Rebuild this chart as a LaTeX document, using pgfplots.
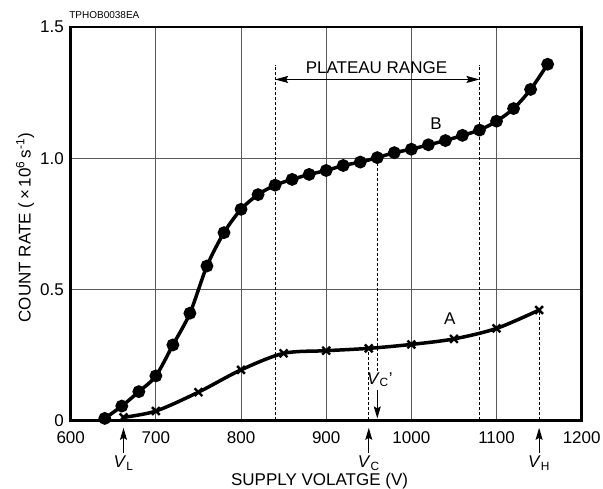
\documentclass[border=0pt]{standalone}
\usepackage{fontspec}
\setmainfont{Liberation Sans}
\usepackage{pgfplots}
\pgfplotsset{compat=1.18}
\usetikzlibrary{arrows.meta}
\pgfplotstableread{
x y
640 0.008
660 0.055
680 0.110
700 0.170
720 0.288
740 0.409
760 0.589
780 0.716
800 0.805
820 0.861
840 0.897
860 0.919
880 0.938
900 0.953
920 0.972
940 0.985
960 1.002
980 1.021
1000 1.034
1020 1.051
1040 1.067
1060 1.087
1080 1.107
1100 1.141
1120 1.189
1140 1.262
1160 1.358
}\curveB
\pgfplotstableread{
x y
662 0.012
700 0.036
750 0.108
800 0.193
850 0.256
900 0.266
950 0.275
1000 0.290
1050 0.311
1100 0.351
1150 0.421
}\curveA
\begin{document}
\begin{tikzpicture}
\fontsize{17}{20}\selectfont
\begin{axis}[
  scale only axis, width=511pt, height=393.5pt,
  xmin=600, xmax=1200, ymin=0, ymax=1.5,
  xtick={600,700,800,900,1000,1100,1200},
  xticklabels={600,700,800,900,1000,1100,1200},
  ytick={0,0.5,1.0,1.5},
  yticklabels={0,0.5,1.0,1.5},
  grid=major, major grid style={black!65, line width=0.9pt},
  major tick length=0pt,
  /pgf/number format/assume math mode=true,
  ticklabel style={font=\fontsize{17}{20}\selectfont},
  xticklabel style={yshift=-5pt},
  yticklabel style={xshift=-1pt},
  xlabel={SUPPLY VOLATGE (V)},
  ylabel={COUNT RATE (\,×\,10\textsuperscript{6}\,s\textsuperscript{-1})},
  label style={font=\fontsize{17}{20}\selectfont},
  xlabel style={at={(axis description cs:0.487,-0.154)}, anchor=center},
  ylabel style={at={(axis description cs:-0.0894,0.49)}, anchor=center},
  clip=false,
]
% dashed guide lines
\begin{scope}[dash pattern=on 3pt off 2pt, line width=0.8pt]
\draw (axis cs:840,0) -- (axis cs:840,1.355);
\draw (axis cs:1080,0) -- (axis cs:1080,1.355);
\draw (axis cs:950,0) -- (axis cs:950,0.275);
\draw (axis cs:960,0.19) -- (axis cs:960,1.002);
\draw (axis cs:1150,0) -- (axis cs:1150,0.421);
\end{scope}
\addplot[black, line width=3.5pt, smooth, mark=*, mark size=4.6pt, mark options={solid, fill=black}] table[x=x,y=y] {\curveB};
\addplot[black, line width=3.5pt, smooth, mark=x, mark size=5.5pt, mark options={solid, line width=2.4pt}] table[x=x,y=y] {\curveA};
\draw[line width=2.8pt] (rel axis cs:0,0) rectangle (rel axis cs:1,1);
% plateau range arrow
\draw[{Stealth[length=13pt,width=7pt,inset=2pt]}-{Stealth[length=13pt,width=7pt,inset=2pt]}, line width=1pt] (axis cs:840,1.30) -- (axis cs:1080,1.30);
\node[anchor=south] at (axis cs:959,1.301) {PLATEAU RANGE};
\node at (axis cs:1029,1.133) {B};
\node at (axis cs:1045,0.39) {A};
% Vc'
\node at (axis cs:963,0.155) {\textit{V}\textsubscript{C}'};
\draw[-{Stealth[length=12pt,width=7pt,inset=2pt]}, line width=1pt] (axis cs:960,0.116) -- (axis cs:960,0.008);
% below-axis arrows
\draw[-{Stealth[length=12pt,width=7pt,inset=2pt]}, line width=1pt] (axis cs:662,-0.123) -- (axis cs:662,-0.028);
\draw[-{Stealth[length=12pt,width=7pt,inset=2pt]}, line width=1pt] (axis cs:950,-0.123) -- (axis cs:950,-0.028);
\draw[-{Stealth[length=12pt,width=7pt,inset=2pt]}, line width=1pt] (axis cs:1150,-0.123) -- (axis cs:1150,-0.028);
\node at (axis cs:662,-0.162) {\textit{V}\textsubscript{L}};
\node at (axis cs:950,-0.162) {\textit{V}\textsubscript{C}};
\node at (axis cs:1150,-0.162) {\textit{V}\textsubscript{H}};
\node[anchor=west, inner sep=0pt, font=\fontsize{10}{12}\selectfont] at (axis description cs:-0.003,1.0305) {TPHOB0038EA};
\end{axis}
\pgfresetboundingbox
\path[use as bounding box] (-70.7pt,-68.5pt) rectangle (532.3pt,420.5pt);
\end{tikzpicture}
\end{document}
